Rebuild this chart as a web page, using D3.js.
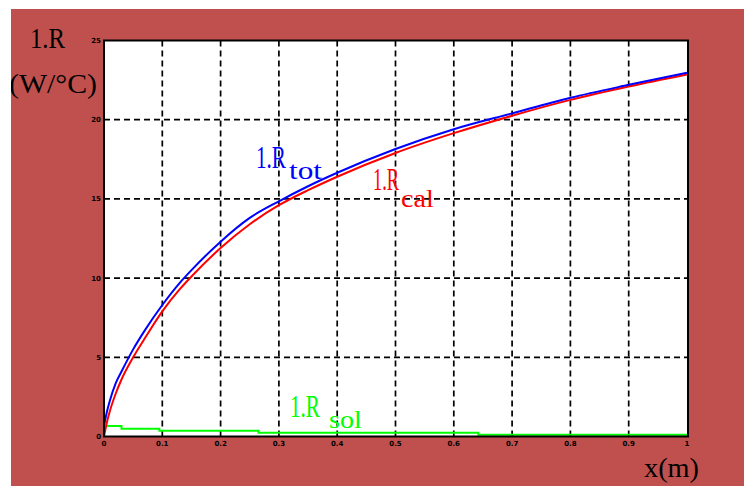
<!DOCTYPE html>
<html>
<head>
<meta charset="utf-8">
<script src="https://cdn.jsdelivr.net/npm/d3@7"></script>
<style>
  html, body { margin: 0; padding: 0; background: #fff; }
  svg { display: block; }
</style>
</head>
<body>
<svg id="chart" width="744" height="486" viewBox="0 0 744 486"></svg>
<script>
'use strict';

// sampled positions along x (m)
var xs = [0, 0.005, 0.01, 0.02, 0.03, 0.05, 0.07, 0.1, 0.13, 0.15, 0.2, 0.25, 0.3, 0.35, 0.4, 0.5, 0.6, 0.7, 0.8, 0.9, 1];
var rCal = [0, 0.9, 1.6, 2.7, 3.6, 5.0, 6.2, 7.9, 9.3, 10.1, 11.9, 13.4, 14.6, 15.55, 16.4, 17.9, 19.15, 20.25, 21.25, 22.1, 22.86];
var rTot = [0.66, 1.56, 2.26, 3.36, 4.1, 5.5, 6.7, 8.3, 9.7, 10.5, 12.3, 13.8, 14.85, 15.8, 16.65, 18.15, 19.4, 20.4, 21.38, 22.2, 22.97];

// R_sol is a step curve
var solX = [0.005, 0.03, 0.095, 0.265, 0.642, 1];
var rSol = [0.66, 0.49, 0.37, 0.24, 0.11, 0.11];

var xTicks = [0, 0.1, 0.2, 0.3, 0.4, 0.5, 0.6, 0.7, 0.8, 0.9, 1];
var xTickLabels = ['0', '0.1', '0.2', '0.3', '0.4', '0.5', '0.6', '0.7', '0.8', '0.9', '1'];
var yTicks = [0, 5, 10, 15, 20, 25];
var yTickLabels = ['0', '5', '10', '15', '20', '25'];

(function () {
  var svg = d3.select('#chart');
  var serif = '"Liberation Serif", "Times New Roman", serif';
  var tiny = '"DejaVu Sans", sans-serif';

  var left = 104, right = 687, top = 40.5, bottom = 436.5;

  var x = d3.scaleLinear().domain([0, 1]).range([left, right]);
  var y = d3.scaleLinear().domain([0, 25]).range([bottom, top]);

  // maroon panel
  svg.append('defs').append('clipPath').attr('id', 'panel')
    .append('rect').attr('x', 11).attr('y', 9).attr('width', 733).attr('height', 477);
  svg.append('rect').attr('x', 11).attr('y', 9).attr('width', 733).attr('height', 477).attr('fill', '#c0504d');

  var root = svg.append('g').attr('clip-path', 'url(#panel)');

  // plot background
  root.append('rect').attr('x', left).attr('y', top).attr('width', right - left).attr('height', bottom - top).attr('fill', '#fff');

  // dashed grid
  var grid = root.append('g').attr('stroke', '#000').attr('stroke-width', 1.7).attr('stroke-dasharray', '6,4');
  grid.selectAll('line.v').data(xTicks.slice(1, -1)).enter().append('line').attr('class', 'v')
    .attr('x1', function (d) { return x(d); }).attr('x2', function (d) { return x(d); })
    .attr('y1', top).attr('y2', bottom);
  grid.selectAll('line.h').data(yTicks.slice(1, -1)).enter().append('line').attr('class', 'h')
    .attr('y1', function (d) { return y(d); }).attr('y2', function (d) { return y(d); })
    .attr('x1', left).attr('x2', right);

  // curves
  var line = d3.line()
    .x(function (d) { return x(d[0]); })
    .y(function (d) { return y(d[1]); })
    .curve(d3.curveMonotoneX);

  var solLine = d3.line()
    .x(function (d) { return x(d[0]); })
    .y(function (d) { return y(d[1]); })
    .curve(d3.curveStepAfter);

  root.append('path').datum(d3.zip(solX, rSol)).attr('d', solLine)
    .attr('fill', 'none').attr('stroke', '#00ff00').attr('stroke-width', 2);
  root.append('path').datum(d3.zip(xs, rCal)).attr('d', line)
    .attr('fill', 'none').attr('stroke', '#ff0000').attr('stroke-width', 2);
  root.append('path').datum(d3.zip(xs, rTot)).attr('d', line)
    .attr('fill', 'none').attr('stroke', '#0000ff').attr('stroke-width', 2);

  // frame
  root.append('rect').attr('x', left).attr('y', top).attr('width', right - left + 1).attr('height', bottom - top)
    .attr('fill', 'none').attr('stroke', '#000').attr('stroke-width', 2);

  // tick labels
  root.append('g').selectAll('text').data(xTicks).enter().append('text')
    .attr('x', function (d) { return x(d); }).attr('y', bottom + 9)
    .attr('text-anchor', 'middle')
    .attr('font-family', tiny).attr('font-weight', 'bold').attr('font-size', 7)
    .text(function (d, i) { return xTickLabels[i]; });

  root.append('g').selectAll('text').data(yTicks).enter().append('text')
    .attr('x', left - 3).attr('y', function (d) { return y(d) + 2.5; })
    .attr('text-anchor', 'end')
    .attr('font-family', tiny).attr('font-weight', 'bold').attr('font-size', 7)
    .text(function (d, i) { return yTickLabels[i]; });

  // text squeezed/stretched into a given width via transform
  function fit(tx, ty, txt, size, width, sy, color) {
    var t = root.append('text').attr('x', 0).attr('y', 0)
      .attr('font-family', serif).attr('font-size', size).attr('fill', color || '#000')
      .text(txt);
    var sx = width / t.node().getComputedTextLength();
    t.attr('transform', 'translate(' + tx + ',' + ty + ') scale(' + sx + ',' + sy + ')');
    return t;
  }

  // axis titles
  fit(30, 48, '1.R', 30, 35, 1);
  fit(9, 93, '(W/°C)', 27, 88, 1);
  fit(644, 477, 'x(m)', 28, 55, 1);

  // curve labels with subscripts
  function label(lx, ly, w, sub, sx, sy, color) {
    fit(lx, ly, '1.R', 22, w, 1.4, color);
    fit(sx, sy, sub, 24, 33, 1.05, color);
  }

  label(256, 168, 30, 'tot', 289, 179, '#0000ff');
  label(373, 190, 26, 'cal', 401, 207, '#ff0000');
  label(290, 417, 30, 'sol', 329, 428, '#00ff00');
})();
</script>
</body>
</html>
